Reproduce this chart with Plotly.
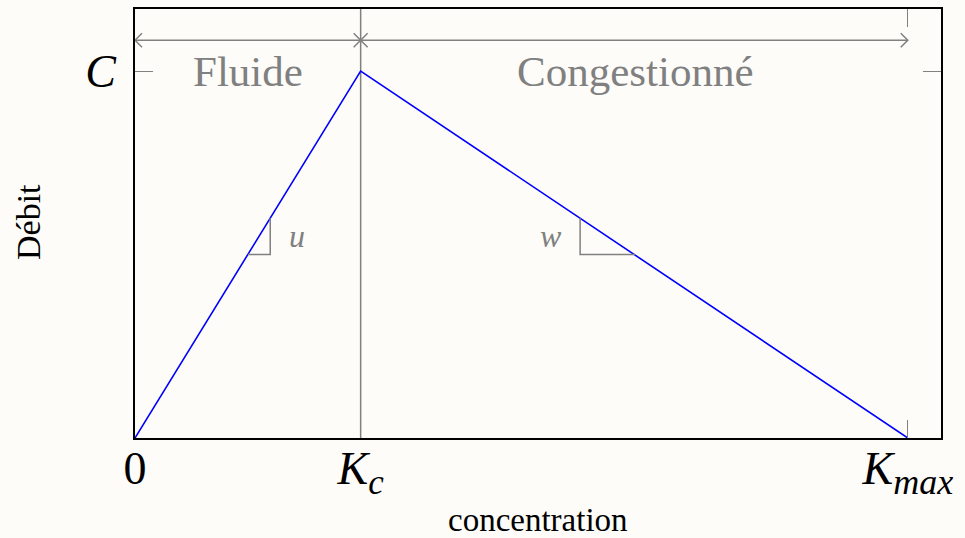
import plotly.graph_objects as go

# diagramme fondamental (triangulaire)
Kc = 0.292
Kmax = 1.0
C = 1.0
x_max = 1.043
y_max = 1.169

line_x = [0, Kc, Kmax]
line_y = [0, C, 0]

tick_x = [0, Kc, Kmax]
tick_x_text = ["0",
               "<i>K</i><sub><i><span style='font-size:35px'>c</span></i></sub>",
               "<i>K</i><sub><i><span style='font-size:36px'>max</span></i></sub>"]
tick_y = [C]
tick_y_text = ["<i>C</i>"]

zones = ["Fluide", "Congestionné"]
zone_x = [0.146, 0.647]
arrow_y = 1.084

# petits triangles de pente
u_tri_x = [0.146, 0.175, 0.175]
u_tri_y = [0.5, 0.5, 0.599]
w_tri_x = [0.647, 0.576, 0.576]
w_tri_y = [0.5, 0.5, 0.599]
slope_labels = ["u", "w"]
slope_label_x = [0.2096, 0.538]
slope_label_y = [0.55, 0.55]

gray = "#808080"
bg = "#fdfcf8"
serif = "Liberation Serif"

fig = go.Figure()

fig.add_trace(go.Scatter(x=[Kc, Kc], y=[0, y_max], mode="lines",
                         line=dict(color=gray, width=1.5), hoverinfo="skip"))
fig.add_trace(go.Scatter(x=line_x, y=line_y, mode="lines",
                         line=dict(color="#0000ff", width=1.6)))
fig.add_trace(go.Scatter(x=u_tri_x, y=u_tri_y, mode="lines",
                         line=dict(color=gray, width=1.5), hoverinfo="skip"))
fig.add_trace(go.Scatter(x=w_tri_x, y=w_tri_y, mode="lines",
                         line=dict(color=gray, width=1.5), hoverinfo="skip"))

# fleches des zones
for x0, x1 in [(0, Kc), (Kc, Kmax)]:
    fig.add_shape(type="line", x0=x0, x1=x1, y0=arrow_y, y1=arrow_y,
                  line=dict(color=gray, width=1.5))
    fig.add_shape(type="path", xsizemode="pixel", ysizemode="pixel",
                  xanchor=x0, yanchor=arrow_y, path="M 7,7 L 0,0 L 7,-7",
                  line=dict(color=gray, width=1.5))
    fig.add_shape(type="path", xsizemode="pixel", ysizemode="pixel",
                  xanchor=x1, yanchor=arrow_y, path="M -7,7 L 0,0 L -7,-7",
                  line=dict(color=gray, width=1.5))

for name, zx in zip(zones, zone_x):
    fig.add_annotation(x=zx, y=C, text=name, showarrow=False,
                       font=dict(family=serif, size=43, color=gray))

for name, lx, ly in zip(slope_labels, slope_label_x, slope_label_y):
    fig.add_annotation(x=lx, y=ly, text="<i>" + name + "</i>", showarrow=False,
                       font=dict(family=serif, size=32, color=gray))

# titres des axes
fig.add_annotation(xref="paper", yref="paper", x=0.5, y=0, yshift=-82,
                   text="concentration", showarrow=False, yanchor="middle",
                   font=dict(family=serif, size=33, color="black"))
fig.add_annotation(xref="paper", yref="paper", x=0, y=0.5035, xshift=-106,
                   text="Débit", showarrow=False, textangle=-90, xanchor="center",
                   font=dict(family=serif, size=34, color="black"))

fig.update_xaxes(range=[0, x_max], tickvals=tick_x, ticktext=tick_x_text,
                 showgrid=False, zeroline=False, showline=True, linecolor="black",
                 linewidth=1.6, mirror="ticks", ticks="inside", ticklen=18,
                 tickcolor=gray, tickwidth=1, automargin=False,
                 ticklabelstandoff=-11,
                 tickfont=dict(family=serif, size=46, color="black"))
fig.update_yaxes(range=[0, y_max], tickvals=tick_y, ticktext=tick_y_text,
                 showgrid=False, zeroline=False, showline=True, linecolor="black",
                 linewidth=1.6, mirror="ticks", ticks="inside", ticklen=18,
                 tickcolor=gray, tickwidth=1, automargin=False,
                 ticklabelstandoff=8,
                 tickfont=dict(family=serif, size=46, color="black"))

fig.update_layout(
    width=965, height=538,
    margin=dict(l=135, r=24, t=9, b=100),
    paper_bgcolor=bg, plot_bgcolor=bg,
    showlegend=False,
)

fig.write_html("out.html", config={"displayModeBar": False},
               post_script="document.body.style.margin='0';")
